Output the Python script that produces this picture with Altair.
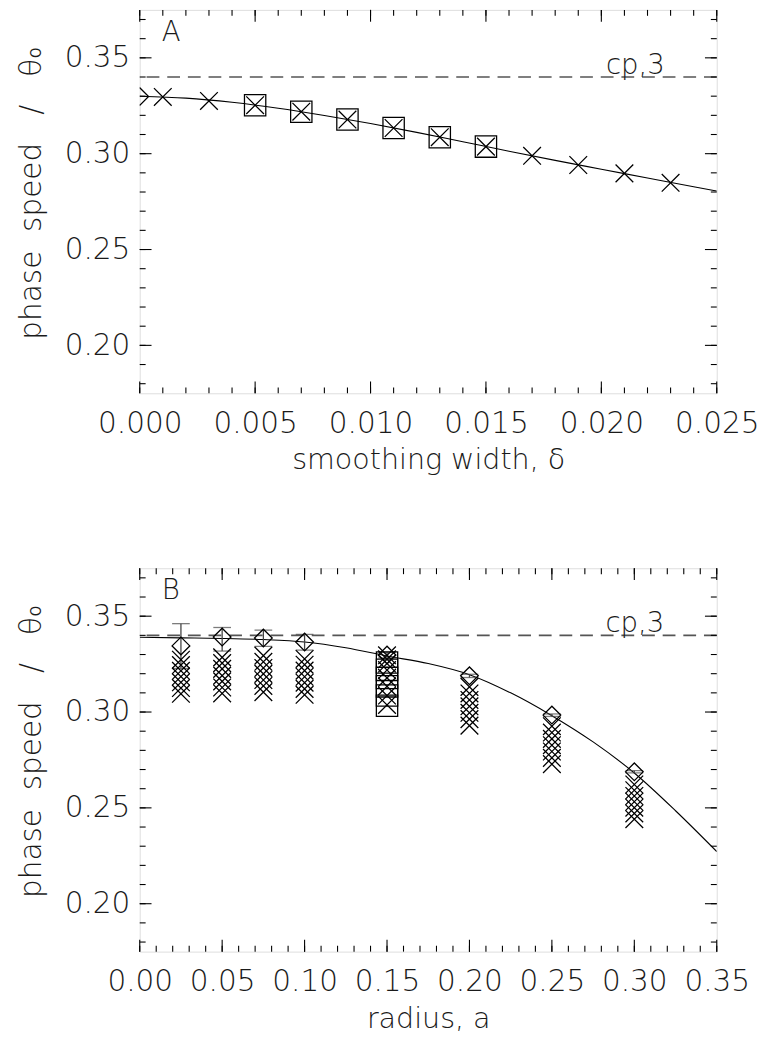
import altair as alt
import pandas as pd

# ---------------- Panel A: phase speed vs smoothing width ----------------
a_cross_x = [0.001, 0.003, 0.005, 0.007, 0.009, 0.011, 0.013, 0.015, 0.017, 0.019, 0.021, 0.023]
a_cross_y = [0.3296, 0.3275, 0.3253, 0.3219, 0.3178, 0.3134, 0.3086, 0.3037, 0.2989, 0.2941, 0.2897, 0.2848]
a_square_x = [0.005, 0.007, 0.009, 0.011, 0.013, 0.015]
a_square_y = [0.3253, 0.3219, 0.3178, 0.3134, 0.3086, 0.3037]
a_diamond_x = [0.0]
a_diamond_y = [0.3298]
a_curve_x = [0.000, 0.002, 0.004, 0.006, 0.008, 0.010, 0.012, 0.014, 0.016, 0.018, 0.020, 0.022, 0.024, 0.025]
a_curve_y = [0.3300, 0.3290, 0.3268, 0.3237, 0.3199, 0.3157, 0.3111, 0.3062, 0.3013, 0.2965, 0.2919, 0.2873, 0.2827, 0.2805]

# ---------------- Panel B: phase speed vs radius ----------------
b_x = [0.025, 0.05, 0.075, 0.10, 0.15, 0.20, 0.25, 0.30]
b_diamond_y = [0.3345, 0.3391, 0.3386, 0.3365, 0.3297, 0.3189, 0.2984, 0.2688]
b_err_lo = [0.3227, 0.3318, 0.3343, 0.3323, 0.3283, 0.3180, 0.2977, 0.2682]
b_err_hi = [0.3461, 0.3441, 0.3427, 0.3405, 0.3311, 0.3197, 0.2990, 0.2694]
b_cross_cols = [
    [0.3273, 0.3245, 0.3215, 0.3185, 0.3155, 0.3125, 0.3095],
    [0.3285, 0.3255, 0.3225, 0.3190, 0.3160, 0.3128, 0.3097],
    [0.3294, 0.3262, 0.3230, 0.3199, 0.3167, 0.3136, 0.3104],
    [0.3277, 0.3247, 0.3216, 0.3184, 0.3153, 0.3121, 0.3090],
    [0.3296, 0.3275, 0.3253, 0.3219, 0.3178, 0.3134, 0.3086, 0.3037],
    [0.3131, 0.3097, 0.3063, 0.3030, 0.2996, 0.2963, 0.2929],
    [0.2926, 0.2893, 0.2860, 0.2827, 0.2794, 0.2761, 0.2728],
    [0.2622, 0.2592, 0.2562, 0.2532, 0.2501, 0.2471, 0.2441],
]
b_square_x = [0.15, 0.15, 0.15, 0.15, 0.15, 0.15]
b_square_y = [0.3258, 0.3220, 0.3178, 0.3134, 0.3086, 0.3033]
b_curve_x = [0.000, 0.025, 0.050, 0.075, 0.100, 0.125, 0.150, 0.175, 0.200, 0.225, 0.250, 0.275, 0.300, 0.325, 0.350]
b_curve_y = [0.3390, 0.3387, 0.3384, 0.3378, 0.3365, 0.3335, 0.3292, 0.3253, 0.3195, 0.3100, 0.2981, 0.2844, 0.2682, 0.2485, 0.2272]

cp3_value = 0.34
cp3_label = "cp,3"
y_title = "phase\u00a0\u00a0speed\u00a0\u00a0\u00a0/\u00a0\u00a0\u00a0θ₀"

# axes / ticks
y_domain = [0.175, 0.375]
y_labels = [0.20, 0.25, 0.30, 0.35]
y_minor = [0.18, 0.19, 0.20, 0.21, 0.22, 0.23, 0.24, 0.25, 0.26, 0.27, 0.28, 0.29,
           0.30, 0.31, 0.32, 0.33, 0.34, 0.35, 0.36, 0.37]
a_x_domain = [0.0, 0.025]
a_x_labels = [0.000, 0.005, 0.010, 0.015, 0.020, 0.025]
a_x_minor = [i / 1000 for i in range(0, 26)]
b_x_domain = [0.0, 0.35]
b_x_labels = [0.00, 0.05, 0.10, 0.15, 0.20, 0.25, 0.30, 0.35]
b_x_minor = [i / 100 for i in range(0, 36)]

W, H = 587, 390
FONT = "DejaVu Sans"
WEIGHT = 200
TXT = "#1a1a1a"
XPATH = "M-1,-1L1,1M1,-1L-1,1"
MAJ, MIN = 12, 6
LABEL_SIZE = 30
TITLE_SIZE = 29


def panel(xdom, xlabels, xfmt, xtitle, xmaj, xmin, curve, crosses, squares, diamonds,
          errs, letter, letter_x, cp_x):
    xs = alt.Scale(domain=xdom, nice=False, zero=False)
    ys = alt.Scale(domain=y_domain, nice=False, zero=False)
    xaxis = alt.Axis(values=xlabels, format=xfmt, title=xtitle, ticks=False, domain=False,
                     grid=False, labelFontSize=LABEL_SIZE, labelFont=FONT, labelFontWeight=WEIGHT,
                     labelColor=TXT, labelPadding=16, labelFlush=False, labelOverlap=False,
                     titleFontSize=TITLE_SIZE, titleFont=FONT, titleFontWeight=WEIGHT,
                     titleColor=TXT, titlePadding=8)
    yaxis = alt.Axis(values=y_labels, format=".2f", title=y_title,
                     ticks=False, domain=False, grid=False, labelFontSize=LABEL_SIZE, labelFont=FONT,
                     labelFontWeight=WEIGHT, labelColor=TXT, labelPadding=10,
                     labelFlush=False, labelOverlap=False, titleFontSize=30, titleFont=FONT,
                     titleFontWeight=WEIGHT, titleColor=TXT, titlePadding=18, titleY=186)
    X = alt.X("x:Q", scale=xs, axis=xaxis)
    Y = alt.Y("y:Q", scale=ys, axis=yaxis)

    layers = []
    cdf = pd.DataFrame({"x": curve[0], "y": curve[1]})
    layers.append(alt.Chart(cdf).mark_line(color="black", strokeWidth=1.1,
                                           interpolate="monotone", clip=True).encode(x=X, y=Y))
    ddf = pd.DataFrame({"y": [cp3_value]})
    layers.append(alt.Chart(ddf).mark_rule(color="#555555", strokeWidth=1.6,
                                           strokeDash=[13, 8]).encode(y=Y))
    tdf = pd.DataFrame({"x": [cp_x], "y": [cp3_value], "t": [cp3_label]})
    layers.append(alt.Chart(tdf).mark_text(align="left", baseline="alphabetic", dy=-3,
                                           fontSize=28, font=FONT, fontWeight=WEIGHT,
                                           color=TXT).encode(x=X, y=Y, text="t:N"))
    ldf = pd.DataFrame({"x": [letter_x], "y": [0.370], "t": [letter]})
    layers.append(alt.Chart(ldf).mark_text(align="left", baseline="top",
                                           fontSize=28, font=FONT, fontWeight=WEIGHT,
                                           color=TXT).encode(x=X, y=Y, text="t:N"))
    if errs is not None:
        edf = pd.DataFrame({"x": errs[0], "y": errs[1], "y2": errs[2]})
        layers.append(alt.Chart(edf).mark_rule(color="#444444", strokeWidth=1.3).encode(
            x=X, y=Y, y2="y2:Q"))
        layers.append(alt.Chart(edf).mark_tick(color="#444444", thickness=1.3, size=18,
                                               orient="horizontal").encode(x=X, y=Y))
        layers.append(alt.Chart(edf).mark_tick(color="#444444", thickness=1.3, size=18,
                                               orient="horizontal").encode(x=X, y=alt.Y("y2:Q", scale=ys, axis=yaxis)))
    sdf = pd.DataFrame({"x": squares[0], "y": squares[1]})
    layers.append(alt.Chart(sdf).mark_point(shape="square", size=470, filled=False,
                                            color="black", strokeWidth=1.3, opacity=1,
                                            clip=True).encode(x=X, y=Y))
    xdf = pd.DataFrame({"x": crosses[0], "y": crosses[1]})
    layers.append(alt.Chart(xdf).mark_point(shape=XPATH, size=324, filled=False,
                                            color="black", strokeWidth=1.3, opacity=1,
                                            clip=True).encode(x=X, y=Y))
    dmdf = pd.DataFrame({"x": diamonds[0], "y": diamonds[1]})
    layers.append(alt.Chart(dmdf).mark_point(shape="diamond", size=324, filled=False,
                                             color="black", strokeWidth=1.3, opacity=1,
                                             clip=True).encode(x=X, y=Y))

    # inward ticks on all four sides
    xmajdf = pd.DataFrame({"x": xmaj})
    xmindf = pd.DataFrame({"x": xmin})
    ymajdf = pd.DataFrame({"y": y_labels})
    ymindf = pd.DataFrame({"y": y_minor})
    tk = dict(color="black", strokeWidth=1.1)
    for df, ln in ((xmajdf, MAJ), (xmindf, MIN)):
        layers.append(alt.Chart(df).mark_rule(**tk).encode(x=X, y=alt.value(H), y2=alt.value(H - ln)))
        layers.append(alt.Chart(df).mark_rule(**tk).encode(x=X, y=alt.value(0), y2=alt.value(ln)))
    for df, ln in ((ymajdf, MAJ), (ymindf, MIN)):
        layers.append(alt.Chart(df).mark_rule(**tk).encode(y=Y, x=alt.value(0), x2=alt.value(ln)))
        layers.append(alt.Chart(df).mark_rule(**tk).encode(y=Y, x=alt.value(W), x2=alt.value(W - ln)))

    return alt.layer(*layers).properties(width=W, height=H)


# crosses for B flattened
bcx, bcy = [], []
for xv, col in zip(b_x, b_cross_cols):
    for yv in col:
        bcx.append(xv)
        bcy.append(yv)

pA = panel(a_x_domain, a_x_labels, ".3f", "smoothing width, δ", a_x_labels, a_x_minor,
           (a_curve_x, a_curve_y), (a_cross_x, a_cross_y), (a_square_x, a_square_y),
           (a_diamond_x, a_diamond_y), None, "A", 0.00095, 0.0202)
pB = panel(b_x_domain, b_x_labels, ".2f", "radius, a", b_x_labels, b_x_minor,
           (b_curve_x, b_curve_y), (bcx, bcy), (b_square_x, b_square_y),
           (b_x, b_diamond_y), (b_x, b_err_lo, b_err_hi), "B", 0.0133, 0.2825)

chart = alt.vconcat(pA, pB, spacing=92).properties(
    padding={"left": 8, "top": -9, "right": 0, "bottom": 0}
).configure_view(stroke="black", strokeWidth=1.3).configure(background="white")

chart.save("out.html", embed_options={"renderer": "svg", "actions": False})
